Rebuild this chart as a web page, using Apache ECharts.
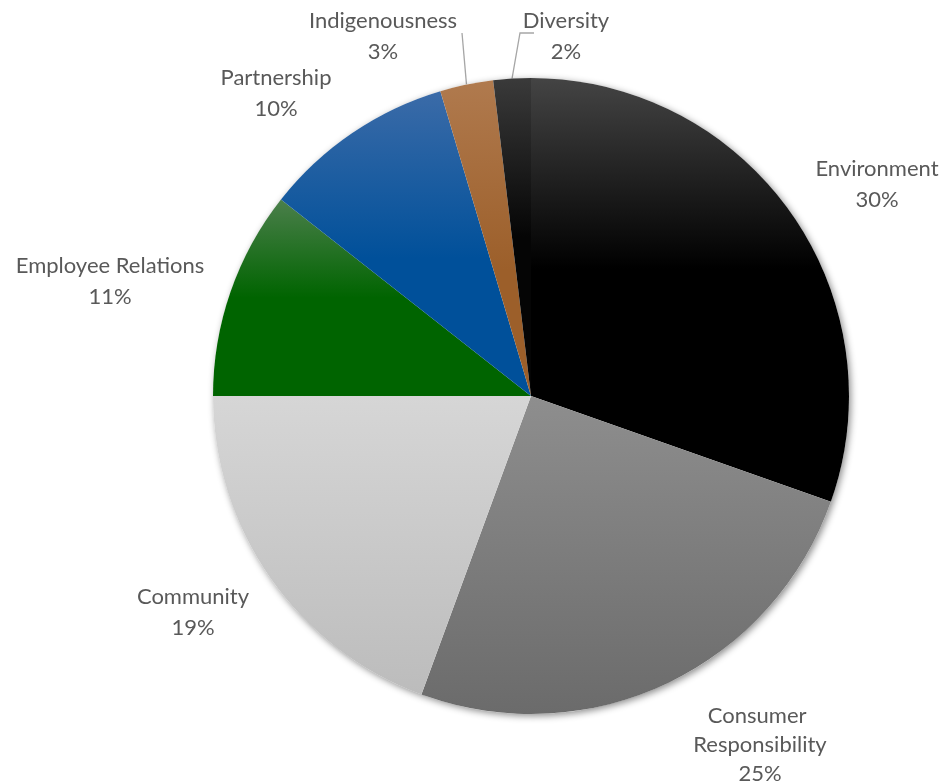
<!DOCTYPE html>
<html>
<head>
<meta charset="utf-8">
<script src="https://cdn.jsdelivr.net/npm/echarts@6/dist/echarts.min.js"></script>
<style>
  html, body { margin: 0; padding: 0; background: #fff; }
  #chart { width: 945px; height: 784px; }
</style>
</head>
<body>
<div id="chart"></div>
<script>
// Share of responsibility themes (percent)
const categories = ['Environment', 'Consumer Responsibility', 'Community', 'Employee Relations', 'Partnership', 'Indigenousness', 'Diversity'];
const shares = [30.4, 25.2, 19.4, 10.6, 9.8, 2.7, 1.9];

// Vertical gradient per slice: [top colour, base colour, offset where base colour is reached]
const fills = [
  ['#444444', '#000000', 0.45],
  ['#8e8e8e', '#6b6b6b', 1.0],
  ['#d6d6d6', '#bcbcbc', 1.0],
  ['#4b7f4b', '#006400', 0.5],
  ['#3b6ba8', '#00509a', 0.55],
  ['#b07a4e', '#9c5f2a', 0.6],
  ['#3a3a3a', '#050505', 0.5]
];

// Label block centres
const labelPos = [
  [877, 184], [760, 745], [193, 612], [110, 281], [276, 93], [383, 36], [566, 36]
];
// Leader line bends for the two thin slices
const leaderBends = {
  5: [[462, 33]],
  6: [[520, 33], [534, 33]]
};

function gradient(f) {
  return new echarts.graphic.LinearGradient(0, 0, 0, 1, [
    { offset: 0, color: f[0] },
    { offset: f[2], color: f[1] },
    { offset: 1, color: f[1] }
  ]);
}

const pieData = categories.map((name, i) => ({
  name: name,
  value: shares[i],
  itemStyle: { color: gradient(fills[i]) },
  label: i === 1 ? { width: 160, overflow: 'break', lineHeight: 29 } : {},
  labelLine: { show: !!leaderBends[i] }
}));

const chart = echarts.init(document.getElementById('chart'), null, { renderer: 'canvas' });
chart.setOption({
  animation: false,
  series: [
    {
      // soft drop shadow beneath the pie
      type: 'pie',
      silent: true,
      center: [531, 396],
      radius: 318,
      label: { show: false },
      labelLine: { show: false },
      itemStyle: {
        color: '#ffffff',
        shadowBlur: 7,
        shadowOffsetX: 2,
        shadowOffsetY: 2,
        shadowColor: 'rgba(0,0,0,0.45)'
      },
      data: [1]
    },
    {
      type: 'pie',
      center: [531, 396],
      radius: 318,
      startAngle: 90,
      clockwise: true,
      avoidLabelOverlap: false,
      percentPrecision: 0,
      itemStyle: { borderWidth: 0 },
      label: {
        show: true,
        position: 'outside',
        formatter: '{b}\n{d}%',
        fontFamily: 'Lato, "Open Sans", sans-serif',
        fontSize: 22,
        lineHeight: 31,
        color: '#595959',
        align: 'center'
      },
      labelLine: {
        show: false,
        length: 10,
        length2: 10,
        lineStyle: { color: '#a6a6a6', width: 1.3 }
      },
      labelLayout: function (params) {
        const i = params.dataIndex;
        const p = labelPos[i];
        const out = { x: p[0], y: p[1], align: 'center', verticalAlign: 'middle' };
        if (leaderBends[i] && params.labelLinePoints) {
          out.labelLinePoints = [params.labelLinePoints[0]].concat(leaderBends[i]);
        }
        return out;
      },
      data: pieData
    }
  ]
});
</script>
</body>
</html>
